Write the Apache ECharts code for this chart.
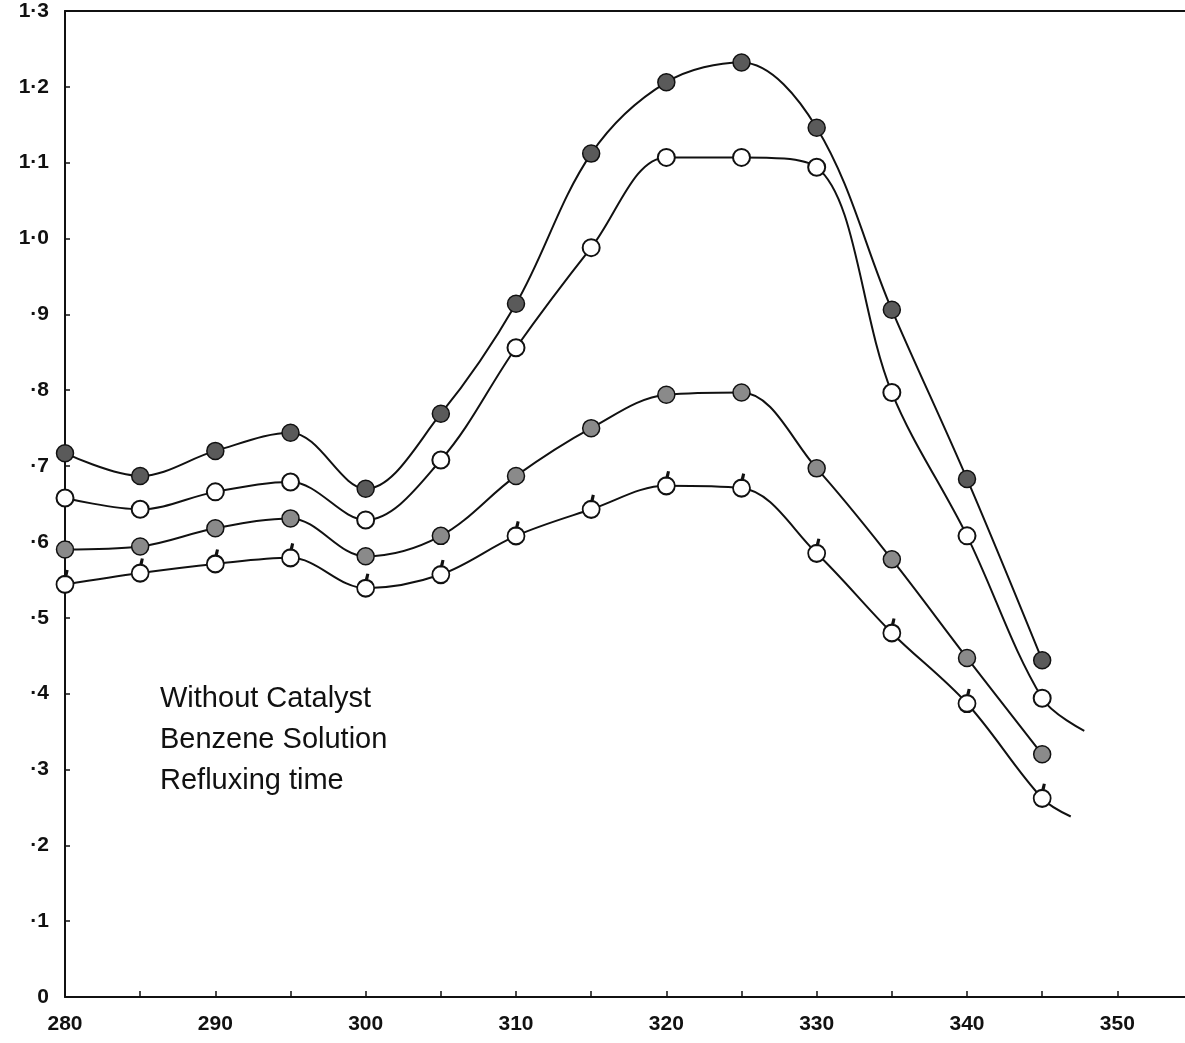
<!DOCTYPE html>
<html>
<head>
<meta charset="utf-8">
<script src="https://cdn.jsdelivr.net/npm/echarts@6/dist/echarts.min.js"></script>
<style>
  html, body { margin: 0; padding: 0; background: #fff; }
  #chart { width: 1185px; height: 1043px; }
</style>
</head>
<body>
<div id="chart"></div>
<script>
// wavelength (x) and the four absorbance curves
var wavelengths = [280, 285, 290, 295, 300, 305, 310, 315, 320, 325, 330, 335, 340, 345];
var filledDots = [0.717, 0.687, 0.720, 0.744, 0.670, 0.769, 0.914, 1.112, 1.206, 1.232, 1.146, 0.906, 0.683, 0.444];
var openDots = [0.658, 0.643, 0.666, 0.679, 0.629, 0.708, 0.856, 0.988, 1.107, 1.107, 1.094, 0.797, 0.608, 0.394];
var halfDots = [0.590, 0.594, 0.618, 0.631, 0.581, 0.608, 0.687, 0.750, 0.794, 0.797, 0.697, 0.577, 0.447, 0.320];
var tickDots = [0.544, 0.559, 0.571, 0.579, 0.539, 0.557, 0.608, 0.643, 0.674, 0.671, 0.585, 0.480, 0.387, 0.262];
// curve tails drawn past the last point (no marker)
var openTail = [347.8, 0.351];
var tickTail = [346.9, 0.238];
var noteLines = ['Without Catalyst', 'Benzene Solution', 'Refluxing time'];

function pairs(ys, tail) {
  var out = wavelengths.map(function (x, i) { return [x, ys[i]]; });
  if (tail) out.push({ value: tail, symbol: 'none' });
  return out;
}

function yLabel(v) {
  var n = Math.round(v * 10);
  if (n === 0) return '0';
  if (n < 10) return '\u00b7' + n;
  return '1\u00b7' + (n - 10);
}

var font = '"Liberation Sans", Arial, sans-serif';
// open circle (bezier) with a little slanted tick on top
var tickPath = 'path://M0,16 C0,10.48 4.48,6 10,6 C15.52,6 20,10.48 20,16 C20,21.52 15.52,26 10,26 C4.48,26 0,21.52 0,16 Z M10,6 L11.5,0 L13,0.3 L11.8,6.2 Z';

var lineBase = {
  type: 'line',
  smooth: 0.35,
  lineStyle: { color: '#111', width: 2 },
  symbolSize: 17,
  z: 3
};

var dom = document.getElementById('chart');
var myChart = echarts.init(dom);
var option = {
  backgroundColor: '#fff',
  animation: false,
  grid: { left: 65, right: 0, top: 11, bottom: 46 },
  xAxis: [{
    type: 'value',
    min: 280,
    max: 354.5,
    interval: 5,
    splitLine: { show: false },
    axisLine: { lineStyle: { color: '#111', width: 2 } },
    axisTick: { inside: true, length: 6, lineStyle: { color: '#111', width: 1.5 } },
    axisLabel: {
      color: '#111', fontSize: 21, fontWeight: 'bold', fontFamily: font, margin: 17,
      showMaxLabel: false,
      formatter: function (v) { return v % 10 === 0 ? String(v) : ''; }
    }
  }, {
    type: 'value',
    position: 'top',
    min: 280,
    max: 354.5,
    splitLine: { show: false },
    axisLine: { show: true, lineStyle: { color: '#111', width: 2 } },
    axisTick: { show: false },
    axisLabel: { show: false }
  }],
  yAxis: {
    type: 'value',
    min: 0,
    max: 1.3,
    interval: 0.1,
    splitLine: { show: false },
    axisLine: { show: true, lineStyle: { color: '#111', width: 2 } },
    axisTick: { show: true, inside: true, length: 5, lineStyle: { color: '#111', width: 1.5 } },
    axisLabel: {
      color: '#111', fontSize: 21, fontWeight: 'bold', fontFamily: font, margin: 16,
      formatter: yLabel
    }
  },
  graphic: [{
    type: 'text',
    left: 160,
    top: 678,
    style: {
      text: noteLines.join('\n'),
      fill: '#111',
      font: '29px ' + font,
      lineHeight: 41
    }
  }],
  series: [
    Object.assign({}, lineBase, {
      name: 'filled',
      data: pairs(filledDots),
      symbol: 'circle',
      itemStyle: { color: '#5a5a5a', borderColor: '#111', borderWidth: 1.5 }
    }),
    Object.assign({}, lineBase, {
      name: 'open',
      data: pairs(openDots, openTail),
      symbol: 'circle',
      itemStyle: { color: '#fff', borderColor: '#111', borderWidth: 2 }
    }),
    Object.assign({}, lineBase, {
      name: 'half',
      data: pairs(halfDots),
      symbol: 'circle',
      itemStyle: { color: '#8a8a8a', borderColor: '#111', borderWidth: 1.5 }
    }),
    Object.assign({}, lineBase, {
      name: 'tick',
      data: pairs(tickDots, tickTail),
      symbol: tickPath,
      symbolSize: [17, 22],
      symbolOffset: [0, -2.5],
      itemStyle: { color: '#fff', borderColor: '#111', borderWidth: 2 }
    })
  ]
};
myChart.setOption(option, true);
</script>
</body>
</html>
